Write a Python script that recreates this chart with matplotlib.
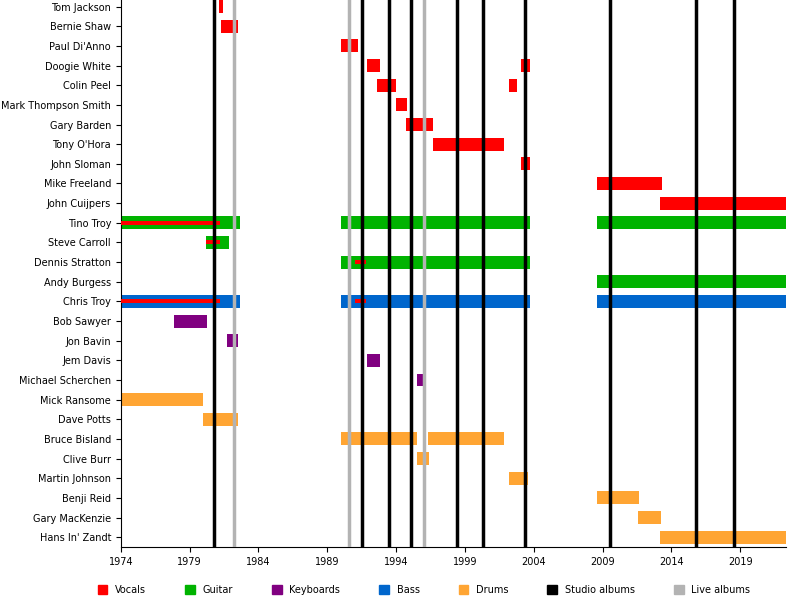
import matplotlib
matplotlib.use("Agg")
import matplotlib.pyplot as plt
from matplotlib.patches import Patch

members = ["Tom Jackson","Bernie Shaw","Paul Di'Anno","Doogie White","Colin Peel","Mark Thompson Smith",
 "Gary Barden","Tony O'Hora","John Sloman","Mike Freeland","John Cuijpers","Tino Troy","Steve Carroll",
 "Dennis Stratton","Andy Burgess","Chris Troy","Bob Sawyer","Jon Bavin","Jem Davis","Michael Scherchen",
 "Mick Ransome","Dave Potts","Bruce Bisland","Clive Burr","Martin Johnson","Benji Reid","Gary MacKenzie","Hans In' Zandt"]

END = 2022.3
# (member, role, start, end)
periods = [
 ("Tom Jackson","Vocals",1981.1,1981.4),
 ("Bernie Shaw","Vocals",1981.3,1982.55),
 ("Paul Di'Anno","Vocals",1990.0,1991.2),
 ("Doogie White","Vocals",1991.9,1992.8),("Doogie White","Vocals",2003.1,2003.7),
 ("Colin Peel","Vocals",1992.65,1994.0),("Colin Peel","Vocals",2002.2,2002.75),
 ("Mark Thompson Smith","Vocals",1994.0,1994.8),
 ("Gary Barden","Vocals",1994.75,1996.7),
 ("Tony O'Hora","Vocals",1996.7,2001.85),
 ("John Sloman","Vocals",2003.1,2003.7),
 ("Mike Freeland","Vocals",2008.6,2013.3),
 ("John Cuijpers","Vocals",2013.2,END),
 ("Tino Troy","Guitar",1974.0,1982.65),("Tino Troy","Guitar",1990.0,2003.7),("Tino Troy","Guitar",2008.6,END),
 ("Steve Carroll","Guitar",1980.2,1981.85),
 ("Dennis Stratton","Guitar",1990.0,2003.7),
 ("Andy Burgess","Guitar",2008.6,END),
 ("Chris Troy","Bass",1974.0,1982.65),("Chris Troy","Bass",1990.0,2003.7),("Chris Troy","Bass",2008.6,END),
 ("Bob Sawyer","Keyboards",1977.9,1980.25),
 ("Jon Bavin","Keyboards",1981.75,1982.55),
 ("Jem Davis","Keyboards",1991.9,1992.8),
 ("Michael Scherchen","Keyboards",1995.55,1996.2),
 ("Mick Ransome","Drums",1974.0,1980.0),
 ("Dave Potts","Drums",1980.0,1982.55),
 ("Bruce Bisland","Drums",1990.0,1995.5),("Bruce Bisland","Drums",1996.35,2001.85),
 ("Clive Burr","Drums",1995.55,1996.4),
 ("Martin Johnson","Drums",2002.2,2003.6),
 ("Benji Reid","Drums",2008.6,2011.65),
 ("Gary MacKenzie","Drums",2011.6,2013.25),
 ("Hans In' Zandt","Drums",2013.2,END),
]
# secondary vocals (thin stripes)
second = [
 ("Tino Troy",1974.0,1981.2),
 ("Steve Carroll",1980.2,1981.2),
 ("Dennis Stratton",1991.05,1991.85),
 ("Chris Troy",1974.0,1981.2),("Chris Troy",1991.05,1991.85),
]
studio = [1980.75,1991.5,1993.45,1995.1,1998.45,2000.3,2003.4,2009.55,2015.8,2018.55]
live = [1982.2,1990.55,1996.05]

colors = {"Vocals":"#ff0000","Guitar":"#00b300","Keyboards":"#800080","Bass":"#0066cc","Drums":"#ffa533"}

fig = plt.figure(figsize=(8,6), dpi=100)
ax = fig.add_axes([0.151, 0.0883, 0.831, 0.917])
idx = {m:i for i,m in enumerate(members)}
for m,r,s,e in periods:
    ax.barh(idx[m], e-s, left=s, height=0.66, color=colors[r], zorder=2)
for m,s,e in second:
    ax.barh(idx[m], e-s, left=s, height=0.2, color=colors["Vocals"], zorder=3)
for x in studio:
    ax.axvline(x, color="black", lw=2.5, zorder=4)
for x in live:
    ax.axvline(x, color="#b3b3b3", lw=2.5, zorder=4)
ax.set_ylim(len(members)-0.5, -0.5)
ax.set_xlim(1974, END)
ax.set_yticks(range(len(members)))
ax.set_yticklabels(members, fontsize=7)
ax.set_xticks(range(1974, 2020, 5))
ax.tick_params(axis='x', labelsize=7)
for sp in ["top","right"]:
    ax.spines[sp].set_visible(False)

handles = [Patch(color=colors[k], label=k) for k in colors] + \
          [Patch(color="black", label="Studio albums"), Patch(color="#b3b3b3", label="Live albums")]
fig.legend(handles=handles, loc="center", bbox_to_anchor=(0.53, 0.017), ncol=7, frameon=False,
           fontsize=7, handlelength=1.0, handleheight=1.0, columnspacing=4.0)
fig.savefig("out.png", dpi=100)
